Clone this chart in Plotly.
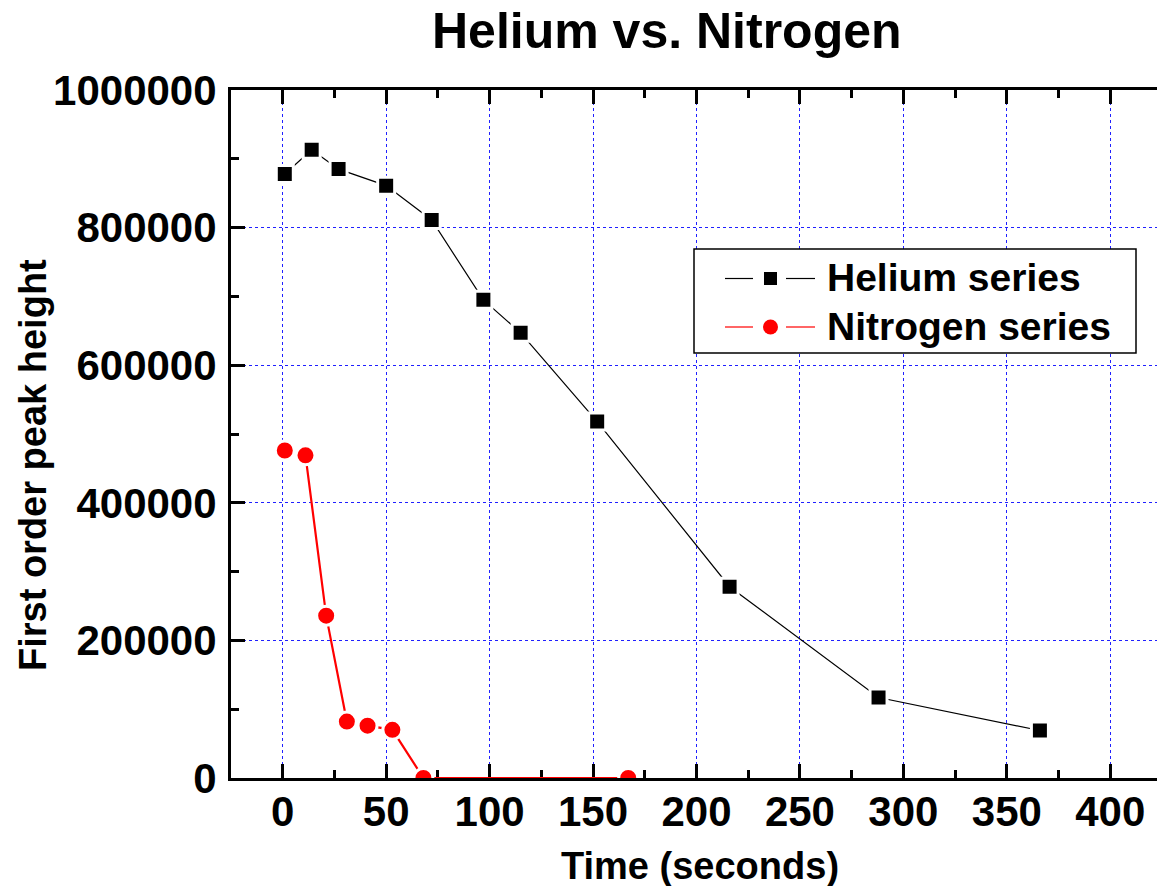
import plotly.graph_objects as go

# Measured first-order peak heights over time
time_he = [1, 14, 27, 50, 72, 97, 115, 152, 216, 288, 366]
helium = [878000, 913000, 885000, 861000, 811000, 695000, 647000, 518000, 278000, 117000, 69000]

time_n2 = [1, 11, 21, 31, 41, 53, 68, 167]
nitrogen = [476000, 469000, 236000, 82000, 76000, 70000, 0, 0]

x_ticks = [0, 50, 100, 150, 200, 250, 300, 350, 400]
y_ticks = [0, 200000, 400000, 600000, 800000, 1000000]
y_tick_text = ["0", "200000", "400000", "600000", "800000", "1000000"]

W, H = 1157, 886
L, R, T, B = 231, 0, 90, 108
PW, PH = W - L - R, H - T - B
FONT = "Liberation Sans, Arial, sans-serif"


def px(x):
    return (x - L) / PW


def py(y):
    return (H - B - y) / PH


fig = go.Figure()

fig.add_trace(go.Scatter(
    x=time_he, y=helium, name="Helium series", mode="lines+markers",
    line=dict(color="black", width=1.2),
    marker=dict(symbol="square", size=17, color="black",
                line=dict(color="white", width=3)),
    showlegend=False,
))
fig.add_trace(go.Scatter(
    x=time_n2, y=nitrogen, name="Nitrogen series", mode="lines+markers",
    line=dict(color="red", width=2.2),
    marker=dict(symbol="circle", size=19, color="red",
                line=dict(color="white", width=3)),
    showlegend=False,
))

axis_common = dict(
    showline=True, linecolor="black", linewidth=3,
    ticks="inside", ticklen=14, tickwidth=3, tickcolor="black",
    showgrid=True, gridcolor="#2020ff", gridwidth=1.2, griddash="dot",
    zeroline=False,
    tickfont=dict(family=FONT, size=42, color="black", weight="bold"),
    layer="below traces",
)

fig.update_xaxes(
    range=[-25, 422.6], tickvals=x_ticks, mirror="ticks",
    minor=dict(ticks="inside", ticklen=8, tickwidth=3, tickcolor="black",
               dtick=25, tick0=0, showgrid=False),
    ticklabelstandoff=-5,
    **axis_common,
)
fig.update_yaxes(
    range=[0, 1000000], tickvals=y_ticks, ticktext=y_tick_text, mirror=False,
    minor=dict(ticks="inside", ticklen=8, tickwidth=3, tickcolor="black",
               dtick=100000, tick0=0, showgrid=False),
    ticklabelstandoff=3,
    **axis_common,
)

shapes = []
annotations = []

# Legend frame and samples
shapes.append(dict(type="rect", xref="paper", yref="paper",
                   x0=px(694), x1=px(1136), y0=py(353), y1=py(249),
                   line=dict(color="black", width=1.5), fillcolor="white",
                   layer="above"))

legend_rows = [
    ("Helium series", "black", "rect", 278.5, 13),
    ("Nitrogen series", "red", "circle", 327, 15),
]
for label, color, sym, yc, size in legend_rows:
    for x0, x1 in [(725, 753), (786, 815)]:
        shapes.append(dict(type="line", xref="paper", yref="paper",
                           x0=px(x0), x1=px(x1), y0=py(yc), y1=py(yc),
                           line=dict(color=color, width=1.2), layer="above"))
    h = size / 2
    shapes.append(dict(type=sym, xref="paper", yref="paper",
                       x0=px(770.5 - h), x1=px(770.5 + h),
                       y0=py(yc + h), y1=py(yc - h),
                       fillcolor=color, line=dict(color=color, width=0),
                       layer="above"))
    annotations.append(dict(text=label, xref="paper", yref="paper",
                            x=px(825), y=py(yc - 1), xanchor="left", yanchor="middle",
                            showarrow=False,
                            font=dict(family=FONT, size=39, color="black", weight="bold")))

# Title and axis titles
annotations.append(dict(text="Helium vs. Nitrogen", xref="paper", yref="paper",
                        x=px(667), y=py(31), xanchor="center", yanchor="middle",
                        showarrow=False,
                        font=dict(family=FONT, size=50, color="black", weight="bold")))
annotations.append(dict(text="Time (seconds)", xref="paper", yref="paper",
                        x=px(700), y=py(866), xanchor="center", yanchor="middle",
                        showarrow=False,
                        font=dict(family=FONT, size=38, color="black", weight="bold")))
annotations.append(dict(text="First order peak height", xref="paper", yref="paper",
                        x=px(33), y=py(465), xanchor="center", yanchor="middle",
                        textangle=-90, showarrow=False,
                        font=dict(family=FONT, size=38, color="black", weight="bold")))

fig.update_layout(
    width=W, height=H,
    margin=dict(l=L, r=R, t=T, b=B, pad=0),
    paper_bgcolor="white", plot_bgcolor="white",
    shapes=shapes, annotations=annotations,
    showlegend=False,
)

fig.write_html("out.html")
